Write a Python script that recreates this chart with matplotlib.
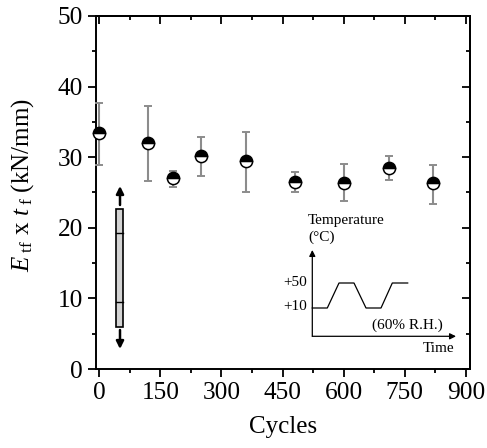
import matplotlib
matplotlib.use('Agg')
import matplotlib.pyplot as plt
from matplotlib.patches import Rectangle
from matplotlib.transforms import Affine2D

plt.rcParams['font.family'] = ['Liberation Serif', 'DejaVu Serif']
plt.rcParams['mathtext.fontset'] = 'custom'
plt.rcParams['mathtext.rm'] = 'Liberation Serif'
plt.rcParams['mathtext.it'] = 'Liberation Serif:italic'

# data
cycles = [0, 120, 180, 250, 360, 480, 600, 710, 820]
stiffness = [33.4, 32.05, 27.0, 30.2, 29.4, 26.5, 26.4, 28.5, 26.3]
err_top = [37.7, 37.25, 28.1, 32.9, 33.6, 27.9, 29.0, 30.2, 28.85]
err_bot = [28.9, 26.6, 25.8, 27.3, 25.0, 25.1, 23.8, 26.8, 23.4]

xticks = [0, 150, 300, 450, 600, 750, 900]
xminor = [75, 225, 375, 525, 675, 825]
yticks = [0, 10, 20, 30, 40, 50]
yminor = [5, 15, 25, 35, 45]

# temperature cycle sketch, in picture pixels
cycle_x = [312.3, 327.3, 339, 354, 366, 381, 392.3, 407.7]
cycle_y = [308, 308, 283, 283, 308, 308, 283, 283]

W, H = 487, 448
fig = plt.figure(figsize=(W / 100, H / 100), dpi=100)
L, R, T, B = 95.7, 470, 16, 369
ax = fig.add_axes([L / W, 1 - B / H, (R - L) / W, (B - T) / H])

lower = [s - b for s, b in zip(stiffness, err_bot)]
upper = [t - s for s, t in zip(stiffness, err_top)]
ax.errorbar(cycles, stiffness, yerr=[lower, upper], fmt='none', ecolor='#8c8c8c',
            elinewidth=1.5, capsize=3, capthick=1.4, zorder=3, clip_on=False)
ax.plot(cycles, stiffness, 'o', ms=8.8, mew=1.1, mec='k', mfc='k', mfcalt='w',
        fillstyle='top', zorder=4, clip_on=False)

ax.set_xlim(-8.8, 910)
ax.set_ylim(0, 50)
ax.set_xticks(xticks)
ax.set_xticks(xminor, minor=True)
ax.set_yticks(yticks)
ax.set_yticks(yminor, minor=True)
ax.tick_params(which='major', length=5.8, width=1.3, labelsize=18.3, pad=3.5)
ax.tick_params(which='minor', length=2.9, width=1.3)
# ticks on the top and right side point inward
for side in ['top', 'right']:
    sec = ax.secondary_xaxis('top') if side == 'top' else ax.secondary_yaxis('right')
    sec.set_ticks(xticks if side == 'top' else yticks)
    sec.set_ticks(xminor if side == 'top' else yminor, minor=True)
    sec.tick_params(which='major', direction='in', length=5.8, width=1.3,
                    labeltop=False, labelright=False)
    sec.tick_params(which='minor', direction='in', length=2.9, width=1.3)
    sec.spines[side].set_linewidth(1.4)
for s in ax.spines.values():
    s.set_linewidth(1.4)

ax.set_xlabel('Cycles', fontsize=18, labelpad=9)

# sketches are placed in picture pixels
px = Affine2D().scale(1 / W, -1 / H).translate(0, 1) + fig.transFigure

fig.text(36, 185.5, r'$\mathit{E}_{\ \mathrm{tf}}$ x $\mathit{t}_{\ \mathrm{f}}$ (kN/mm)',
         transform=px, fontsize=18, rotation=90, ha='right', va='center')

# specimen
fig.add_artist(Rectangle((116.3, 209), 7, 118.3, transform=px, fc='#d3d3d3', ec='k', lw=1.2))
for y in [233, 302.3]:
    fig.add_artist(plt.Line2D([116.3, 123.3], [y, y], transform=px, color='k', lw=1.0))
ax.annotate('', xy=(120, 186), xytext=(120, 205), xycoords=px, textcoords=px,
            arrowprops=dict(arrowstyle='-|>', color='k', lw=1.8, mutation_scale=11, shrinkA=0, shrinkB=0))
ax.annotate('', xy=(120, 349), xytext=(120, 330), xycoords=px, textcoords=px,
            arrowprops=dict(arrowstyle='-|>', color='k', lw=1.8, mutation_scale=11, shrinkA=0, shrinkB=0))

# temperature inset
fig.add_artist(plt.Line2D(cycle_x, cycle_y, transform=px, color='k', lw=0.9))
ax.annotate('', xy=(312.3, 250), xytext=(312.3, 336.3), xycoords=px, textcoords=px,
            arrowprops=dict(arrowstyle='-|>', color='k', lw=0.9, mutation_scale=9, shrinkA=0, shrinkB=0))
ax.annotate('', xy=(456, 336.3), xytext=(312.3, 336.3), xycoords=px, textcoords=px,
            arrowprops=dict(arrowstyle='-|>', color='k', lw=0.9, mutation_scale=9, shrinkA=0, shrinkB=0))
fig.text(308, 224, 'Temperature', transform=px, fontsize=11, va='baseline')
fig.text(308, 240.7, '(°C)', transform=px, fontsize=11, va='baseline')
fig.text(306.7, 283, '+50', transform=px, fontsize=11, ha='right', va='center')
fig.text(306.7, 307, '+10', transform=px, fontsize=11, ha='right', va='center')
fig.text(372.3, 329, '(60% R.H.)', transform=px, fontsize=11, va='baseline')
fig.text(454, 351.6, 'Time', transform=px, fontsize=11, ha='right', va='baseline')

fig.savefig('out.png', dpi=100)
